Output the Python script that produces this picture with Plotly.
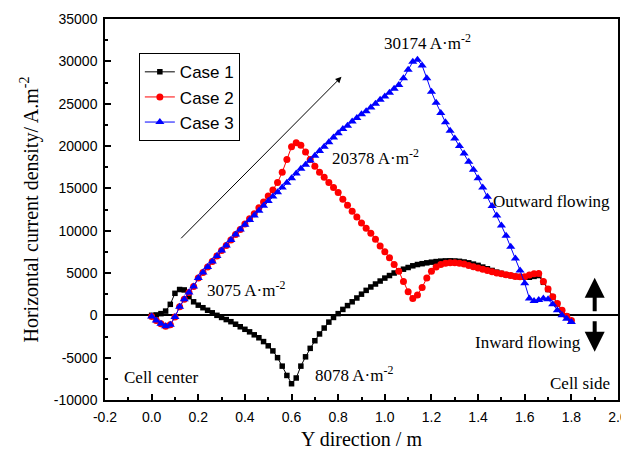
import plotly.graph_objects as go

x_pos = [round(i * 0.02, 2) for i in range(91)]

case1 = [0, 50, 200, 500, 1300, 2600, 3050, 3000, 2200, 1600,
         1200, 900, 600, 300, 0, -250, -500, -750, -1050, -1350,
         -1650, -1950, -2300, -2650, -3100, -3600, -4200, -5000, -6000, -7100,
         -8078, -7400, -6000, -4900, -3900, -3000, -2200, -1500, -800, -250,
         200, 700, 1150, 1600, 2050, 2500, 2950, 3350, 3700, 4050,
         4400, 4700, 5000, 5250, 5450, 5650, 5850, 6000, 6100, 6200,
         6280, 6350, 6400, 6430, 6440, 6420, 6380, 6300, 6200, 6050,
         5900, 5700, 5500, 5300, 5100, 4950, 4800, 4700, 4600, 4550,
         4500, 4500, 4600, 4700, 3900, 3050, 2150, 1350, 550, -100,
         -650]

case2 = [-150, -600, -1000, -1300, -1100, -200, 1000, 1900, 2700, 3400,
         4400, 5050, 5700, 6350, 7000, 7650, 8250, 8900, 9550, 10150,
         10800, 11400, 12000, 12700, 13400, 14100, 14800, 15700, 16900, 18400,
         19900, 20378, 20100, 19300, 18400, 17600, 16900, 16300, 15700, 15100,
         14500, 13700, 13000, 12300, 11600, 10900, 10300, 9700, 9000, 8200,
         7500, 6800, 6000, 5200, 4000, 2800, 2000, 2400, 3300, 4400,
         5200, 5700, 6000, 6150, 6200, 6200, 6150, 6050, 5900, 5750,
         5600, 5450, 5300, 5150, 5000, 4900, 4800, 4700, 4600, 4550,
         4550, 4750, 4900, 4950, 4000, 3100, 2200, 1400, 600, -100,
         -600]

case3 = [-150, -600, -1000, -1300, -1100, -200, 1000, 1900, 2700, 3400,
         4400, 5050, 5700, 6350, 7000, 7650, 8250, 8900, 9550, 10150,
         10700, 11250, 11800, 12350, 12950, 13500, 14030, 14550, 15100, 15650,
         16200, 16750, 17300, 17800, 18300, 18850, 19400, 19900, 20450, 21000,
         21500, 22000, 22400, 22900, 23300, 23750, 24100, 24550, 25000, 25450,
         25850, 26300, 26750, 27200, 28000, 29000, 29950, 30174, 29500, 28000,
         26400, 25100, 23900, 22800, 21800, 20900, 20000, 19100, 18150, 17200,
         16200, 15100, 14000, 12900, 11800, 10600, 9400, 8100, 6700, 5300,
         3800, 2000, 1700, 1800, 2000, 1900, 1300, 600, 0, -400,
         -800]

x_ticks = [-0.2, 0.0, 0.2, 0.4, 0.6, 0.8, 1.0, 1.2, 1.4, 1.6, 1.8, 2.0]
y_ticks = [-10000, -5000, 0, 5000, 10000, 15000, 20000, 25000, 30000, 35000]

SERIF = "Liberation Serif"
SANS = "Liberation Sans"

fig = go.Figure()
fig.add_trace(go.Scatter(x=x_pos, y=case1, name="Case 1", mode="lines+markers",
                         line=dict(color="black", width=1),
                         marker=dict(symbol="square", size=5.5, color="black")))
fig.add_trace(go.Scatter(x=x_pos, y=case2, name="Case 2", mode="lines+markers",
                         line=dict(color="#ff0000", width=1),
                         marker=dict(symbol="circle", size=7, color="#ff0000")))
fig.add_trace(go.Scatter(x=x_pos, y=case3, name="Case 3", mode="lines+markers",
                         line=dict(color="#0000ff", width=1),
                         marker=dict(symbol="triangle-up", size=8, color="#0000ff")))

texts = [
    ("30174 A·m<sup>-2</sup>", 1.183, 32300),
    ("20378 A·m<sup>-2</sup>", 0.96, 18720),
    ("3075 A·m<sup>-2</sup>", 0.403, 3130),
    ("8078 A·m<sup>-2</sup>", 0.866, -6910),
    ("Outward flowing", 1.715, 13400),
    ("Inward flowing", 1.616, -3250),
    ("Cell center", 0.039, -7380),
    ("Cell side", 1.835, -8090),
]
annotations = []
for t, xx, yy in texts:
    annotations.append(dict(text=t, x=xx, y=yy, xref="x", yref="y", showarrow=False,
                            font=dict(family=SERIF, size=17, color="black")))

# arrows
annotations.append(dict(x=0.814, y=28170, ax=0.12, ay=8920, xref="x", yref="y",
                        axref="x", ayref="y", showarrow=True, arrowhead=2,
                        arrowsize=1.2, arrowwidth=1, arrowcolor="black", text=""))
annotations.append(dict(x=1.9, y=4430, ax=1.9, ay=300, xref="x", yref="y",
                        axref="x", ayref="y", showarrow=True, arrowhead=2,
                        arrowsize=1.0, arrowwidth=4, arrowcolor="black", text=""))
annotations.append(dict(x=1.9, y=-4310, ax=1.9, ay=-530, xref="x", yref="y",
                        axref="x", ayref="y", showarrow=True, arrowhead=2,
                        arrowsize=1.0, arrowwidth=4, arrowcolor="black", text=""))

fig.update_layout(
    width=629, height=447,
    margin=dict(l=97, r=19, t=11, b=55),
    paper_bgcolor="white", plot_bgcolor="white",
    annotations=annotations,
    legend=dict(x=0.066, y=0.91, xanchor="left", yanchor="top",
                bgcolor="white", bordercolor="black", borderwidth=1,
                font=dict(family=SANS, size=17, color="black"),
                tracegroupgap=0),
    showlegend=True,
)
fig.update_xaxes(range=[-0.2, 2.0], tickvals=x_ticks,
                 ticktext=[f"{v:.1f}" for v in x_ticks], automargin=False,
                 ticks="inside", ticklen=6, tickwidth=1.5, tickcolor="black",
                 ticklabelstandoff=3, ticklabeloverflow="allow",
                 minor=dict(dtick=0.1, ticks="inside", ticklen=3, tickwidth=1.5, tickcolor="black"),
                 showline=True, linecolor="black", linewidth=1.5, mirror=True,
                 showgrid=False, zeroline=False,
                 tickfont=dict(family=SANS, size=14, color="black"),
                 title=dict(text="Y direction / m", font=dict(family=SERIF, size=20, color="black"),
                            standoff=8))
fig.update_yaxes(range=[-10000, 35000], tickvals=y_ticks,
                 ticktext=[str(v) for v in y_ticks], automargin=False,
                 ticks="inside", ticklen=6, tickwidth=1.5, tickcolor="black",
                 ticklabelstandoff=3,
                 minor=dict(dtick=2500, ticks="inside", ticklen=3, tickwidth=1.5, tickcolor="black"),
                 showline=True, linecolor="black", linewidth=1.5, mirror=True,
                 showgrid=False, zeroline=True, zerolinecolor="black", zerolinewidth=1.5,
                 tickfont=dict(family=SANS, size=14, color="black"),
                 title=dict(text="Horizontal current density/ A.m<sup>-2</sup>",
                            font=dict(family=SERIF, size=20, color="black"), standoff=10))

fig.write_html("out.html")
